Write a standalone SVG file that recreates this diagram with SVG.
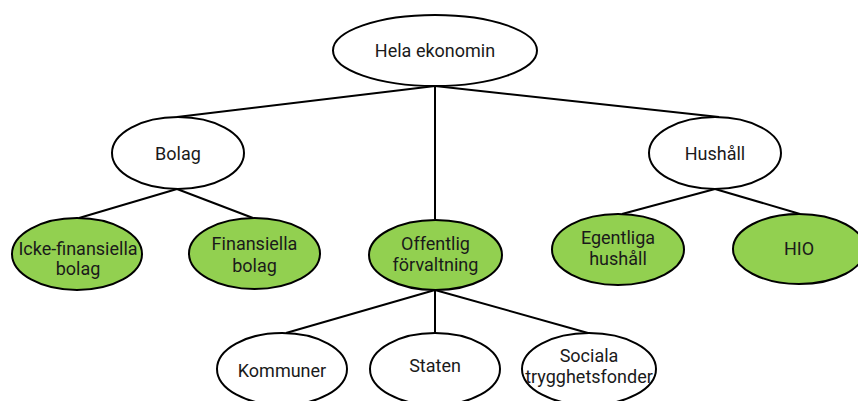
<svg xmlns="http://www.w3.org/2000/svg" width="858" height="401" viewBox="0 0 858 401">
<style>
.n{fill:#ffffff;stroke:#000;stroke-width:2}
.g{fill:#92d050;stroke:#000;stroke-width:2}
.c line{stroke:#000;stroke-width:2}
text{font-family:Roboto,"Liberation Sans",sans-serif;font-size:18px;fill:#1a1a1a;text-anchor:middle}
</style>
<rect width="858" height="401" fill="#ffffff"/>
<g class="c" id="connectors">
<line x1="435" y1="86" x2="177" y2="117"/>
<line x1="435" y1="86" x2="435" y2="219"/>
<line x1="435" y1="86" x2="719" y2="117"/>
<line x1="177" y1="189" x2="79" y2="218"/>
<line x1="177" y1="189" x2="253" y2="218"/>
<line x1="715" y1="189" x2="622" y2="214"/>
<line x1="715" y1="189" x2="800" y2="214"/>
<line x1="435" y1="290" x2="286" y2="333"/>
<line x1="435" y1="290" x2="435" y2="333"/>
<line x1="435" y1="290" x2="588" y2="333"/>
</g>
<g id="hela"><ellipse class="n" cx="435" cy="50.5" rx="102" ry="35.5"/><text x="435" y="57">Hela ekonomin</text></g>
<g id="bolag"><ellipse class="n" cx="178" cy="153" rx="66" ry="36"/><text x="178" y="160">Bolag</text></g>
<g id="hushall"><ellipse class="n" cx="715" cy="153" rx="66" ry="36"/><text x="715" y="160">Hushåll</text></g>
<g id="icke"><ellipse class="g" cx="77" cy="254" rx="65" ry="36"/><text x="78" y="255">Icke-finansiella</text><text x="78" y="275">bolag</text></g>
<g id="finansiella"><ellipse class="g" cx="254.5" cy="253.5" rx="65.5" ry="35.5"/><text x="254.5" y="250">Finansiella</text><text x="254.5" y="271.5">bolag</text></g>
<g id="offentlig"><ellipse class="g" cx="435.5" cy="255" rx="66.5" ry="35"/><text x="435.5" y="250">Offentlig</text><text x="435.5" y="271">förvaltning</text></g>
<g id="egentliga"><ellipse class="g" cx="618" cy="249.5" rx="66" ry="35.5"/><text x="618" y="243.5">Egentliga</text><text x="618" y="265">hushåll</text></g>
<g id="hio"><ellipse class="g" cx="799" cy="249" rx="66" ry="35"/><text x="799" y="255">HIO</text></g>
<g id="kommuner"><ellipse class="n" cx="282" cy="369" rx="65" ry="36"/><text x="282" y="376.5">Kommuner</text></g>
<g id="staten"><ellipse class="n" cx="435" cy="369" rx="65" ry="36"/><text x="435" y="371.5">Staten</text></g>
<g id="sociala"><ellipse class="n" cx="589" cy="369" rx="67" ry="36"/><text x="589" y="362">Sociala</text><text x="589" y="383">trygghetsfonder</text></g>
</svg>
